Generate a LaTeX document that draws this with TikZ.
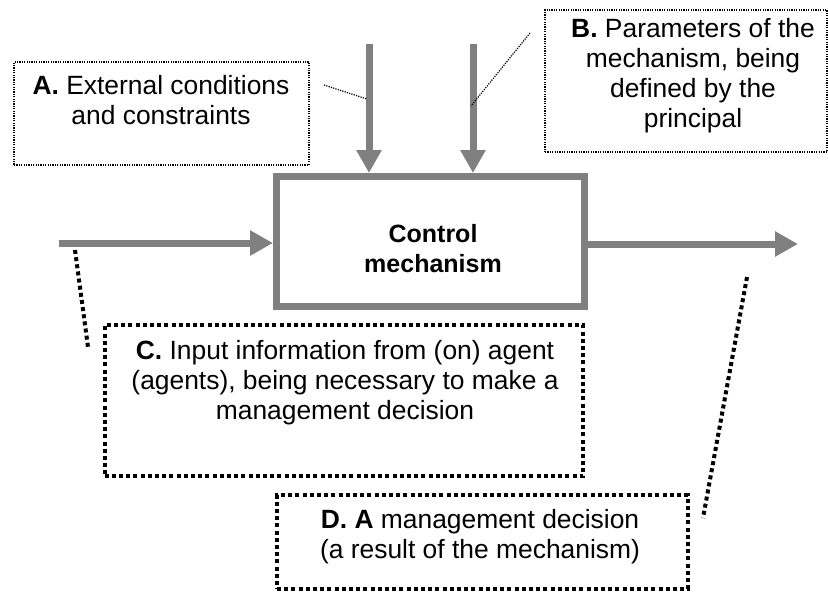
\documentclass[tikz,border=0pt]{standalone}
\usepackage{fontspec}
\setmainfont{Liberation Sans}
\usetikzlibrary{positioning, calc, arrows.meta}

\begin{document}
\begin{tikzpicture}[x=0.5pt, y=-0.5pt, every node/.style = {font=\fontsize{13.2}{15}\selectfont, align=center, inner sep=0pt, outer sep=0pt}, flow/.style = {draw=gray, line width=3.5pt, -{Triangle[length=11.5pt, width=12pt]}}, mainbox/.style = {draw=gray, line width=3.5pt, outer sep=1.75pt, minimum width=154pt, minimum height=65pt}, thinbox/.style = {draw, line width=0.6pt, dash pattern=on 0.6pt off 0.6pt}, thickbox/.style = {draw, line width=2pt, dash pattern=on 2pt off 1.6pt}]
    \useasboundingbox (0,0) rectangle (828,591);
    % control block
    \node[mainbox] (ctrl) at (430.5,241.5) {};
    \node[font=\fontsize{12.5}{15}\selectfont\bfseries] (ctrltext) at (433,249) {Control\\mechanism};
    % flows in and out
    \coordinate (inA) at (369,44);
    \coordinate (inB) at (473,44);
    \coordinate (inC) at (59,243);
    \coordinate (outD) at (798,244);
    \draw[flow] (inA) -- (inA |- ctrl.north);
    \draw[flow] (inB) -- (inB |- ctrl.north);
    \draw[flow] (inC) -- (inC -| ctrl.west);
    \draw[flow] (outD -| ctrl.east) -- (outD);
    % A and B
    \node[thinbox, minimum width=147.5pt, minimum height=51.5pt] (boxA) at (161.5,113.5) {};
    \node (textA) at (161,100) {\textbf{A.} External conditions\\and constraints};
    \node[thinbox, minimum width=141pt, minimum height=71pt] (boxB) at (686,81) {};
    \node (textB) at (693,75.5) {\textbf{B.} Parameters of the\\mechanism, being\\defined by the\\principal};
    % C and D
    \node[thickbox, minimum width=239.2pt, minimum height=75.5pt] (boxC) at (343.8,400.8) {};
    \node (textC) at (345,382.5) {\textbf{C.} Input information from (on) agent\\(agents), being necessary to make a\\management decision};
    \node[thickbox, minimum width=205.5pt, minimum height=46.6pt] (boxD) at (482.5,541.9) {};
    \node (textD) at (480,536.5) {\textbf{D. A} management decision\\(a result of the mechanism)};
    % leaders
    \coordinate (a1) at (324,85);
    \coordinate (a2) at (367,99);
    \coordinate (b1) at (530,33);
    \coordinate (b2) at (471,106);
    \coordinate (c1) at (75,250);
    \coordinate (c2) at (88,347);
    \coordinate (d1) at (747,277);
    \coordinate (d2) at (703,518);
    \draw[line width=0.6pt, dash pattern=on 0.6pt off 0.6pt] (a1) -- (a2);
    \draw[line width=0.6pt, dash pattern=on 0.6pt off 0.6pt] (b1) -- (b2);
    \draw[line width=2pt, dash pattern=on 2pt off 1.6pt] (c1) -- (c2);
    \draw[line width=2pt, dash pattern=on 2pt off 1.6pt] (d1) -- (d2);
\end{tikzpicture}
\end{document}
